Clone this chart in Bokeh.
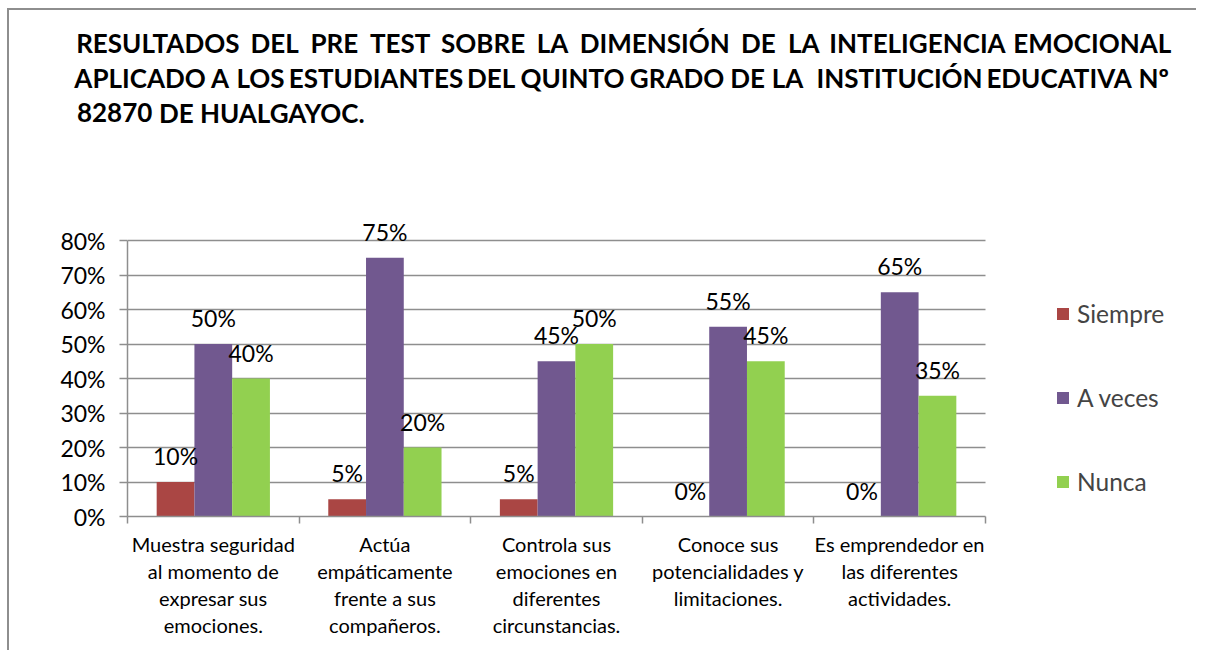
from bokeh.plotting import figure
from bokeh.models import (ColumnDataSource, Range1d, FixedTicker, NumeralTickFormatter,
                          LabelSet, Legend, LegendItem)
from bokeh.core.properties import value
from bokeh.embed import file_html
from bokeh.resources import INLINE

# ---------------- data ----------------
categories = [
    "Muestra seguridad\nal momento de\nexpresar sus\nemociones.",
    "Actúa\nempáticamente\nfrente a sus\ncompañeros.",
    "Controla sus\nemociones en\ndiferentes\ncircunstancias.",
    "Conoce sus\npotencialidades y\nlimitaciones.",
    "Es emprendedor en\nlas diferentes\nactividades.",
]
series_names = ["Siempre", "A veces", "Nunca"]
siempre = [0.10, 0.05, 0.05, 0.00, 0.00]
a_veces = [0.50, 0.75, 0.45, 0.55, 0.65]
nunca = [0.40, 0.20, 0.50, 0.45, 0.35]
y_ticks = [0.0, 0.1, 0.2, 0.3, 0.4, 0.5, 0.6, 0.7, 0.8]

title_lines = [
    "RESULTADOS DEL PRE TEST SOBRE LA DIMENSIÓN DE LA INTELIGENCIA EMOCIONAL",
    "APLICADO A LOS ESTUDIANTES DEL QUINTO GRADO DE LA  INSTITUCIÓN EDUCATIVA Nº",
    "82870 DE HUALGAYOC.",
]

colors = ["#AA4644", "#71588F", "#92D050"]
FONT = "Lato"
GRID = "#8E8E8E"
BORDER = "2px solid #8E8E8E"

W = 1189
# ---------------- title figure (justified text) ----------------
HT = 131
tf = figure(width=W, height=HT, output_backend="svg", toolbar_location=None,
            x_range=Range1d(0, W), y_range=Range1d(HT, 0),
            x_axis_location=None, y_axis_location=None,
            min_border=0, min_border_left=0, min_border_right=0,
            min_border_top=0, min_border_bottom=0)
tf.title_location = None
tf.grid.visible = False
tf.outline_line_color = None
tf.styles = {"border-left": BORDER, "border-top": BORDER,
             "margin-left": "7px", "margin-top": "8px"}

# approximate Calibri Bold advance widths (per 1000 em) to distribute words
cw = {"A": 606, "B": 561, "C": 529, "D": 630, "E": 488, "F": 459, "G": 637, "H": 631, "I": 267,
      "L": 423, "M": 874, "N": 659, "O": 676, "P": 532, "Q": 686, "R": 563, "S": 473, "T": 495,
      "U": 653, "V": 591, "Y": 520, "Ó": 676, "º": 350, ".": 267}
for d in "0123456789":
    cw[d] = 507
size_ref = 29.3
x0, x1 = 68, 1159
base_y = [32, 67, 102]
tx, ty, tt = [], [], []
for li, line in enumerate(title_lines):
    words = line.split(" ")
    real = [w for w in words if w]
    widths = [sum(cw.get(c, 550) for c in w) * size_ref / 1000 for w in real]
    nsp = len(words) - 1
    last = li == len(title_lines) - 1
    gap = (x1 - x0 - sum(widths)) / nsp if not last else 280 * size_ref / 1000
    x = x0
    k = 0
    for w in words:
        if w == "":
            x += gap
            continue
        wd = widths[k]
        tx.append(x + wd / 2)
        ty.append(base_y[li])
        tt.append(w)
        x += wd + gap
        k += 1
tf.text(x=tx, y=ty, text=tt, text_align="center", text_baseline="alphabetic",
        text_font=value(FONT), text_font_style="bold", text_font_size="26px",
        text_color="black")

# ---------------- chart figure ----------------
H = 511
FL, FT, FR, FB = 118, 10, 976, 377     # frame: 0..n spans FL..FR, 0..0.8 spans FB..(FB-276)
n = len(categories)
x_end = n * (W - FL) / (FR - FL)
y_end = 0.8 * (FB - FT) / 276
p = figure(width=W, height=H, output_backend="svg", toolbar_location=None,
           x_range=Range1d(0, x_end), y_range=Range1d(0, y_end),
           min_border_left=FL, min_border_right=0, min_border_top=FT,
           min_border_bottom=H - FB)
p.outline_line_color = None
p.background_fill_color = "white"
p.border_fill_color = "white"
p.styles = {"border-left": BORDER, "margin-left": "7px"}

bw = 0.22
offsets = [-bw, 0.0, bw]
renderers = []
for vals, off, col, name in zip([siempre, a_veces, nunca], offsets, colors, series_names):
    src = ColumnDataSource(dict(
        x=[i + 0.5 + off for i in range(n)],
        top=vals,
        lab=[f"{round(v * 100)}%" for v in vals],
    ))
    r = p.vbar(x="x", top="top", width=bw, source=src, fill_color=col, line_color=None)
    renderers.append(r)
    p.add_layout(LabelSet(x="x", y="top", text="lab", source=src, text_align="center",
                          text_baseline="middle", y_offset=26, text_font=value(FONT),
                          text_font_size=value("23px"), text_color=value("black")))

# y axis
p.yaxis.ticker = FixedTicker(ticks=y_ticks)
p.yaxis.bounds = (0, 0.8)
p.yaxis.formatter = NumeralTickFormatter(format="0%")
p.yaxis.major_label_text_font = FONT
p.yaxis.major_label_text_font_size = "23px"
p.yaxis.major_label_text_color = "black"
p.yaxis.major_tick_out = 8
p.yaxis.major_tick_in = 0
p.yaxis.minor_tick_line_color = None
p.yaxis.major_label_standoff = 14
p.yaxis.axis_line_color = GRID
p.yaxis.major_tick_line_color = GRID
p.yaxis.axis_line_width = 1.5
p.yaxis.major_tick_line_width = 1.5

# x axis: labels at category centres, ticks at boundaries
centers = [i + 0.5 for i in range(n)]
p.xaxis.ticker = FixedTicker(ticks=centers, minor_ticks=list(range(n + 1)))
p.xaxis.bounds = (0, n)
p.xaxis.major_label_overrides = {c: lab for c, lab in zip(centers, categories)}
p.xaxis.major_tick_out = 0
p.xaxis.major_tick_in = 0
p.xaxis.minor_tick_out = 7
p.xaxis.minor_tick_in = 0
p.xaxis.minor_tick_line_color = GRID
p.xaxis.minor_tick_line_width = 1.5
p.xaxis.axis_line_color = GRID
p.xaxis.axis_line_width = 1.5
p.xaxis.major_label_text_font = FONT
p.xaxis.major_label_text_font_size = "20px"
p.xaxis.major_label_text_color = "black"
p.xaxis.major_label_text_line_height = 1.135
p.xaxis.major_label_standoff = 8

# horizontal gridlines limited to the category area
p.xgrid.grid_line_color = None
yg = p.ygrid[0]
if "cross_bounds" in yg.properties():
    yg.ticker = FixedTicker(ticks=y_ticks)
    yg.bounds = (0, 0.8)
    yg.cross_bounds = (0, n)
    yg.grid_line_color = GRID
    yg.grid_line_width = 1.5
else:
    yg.grid_line_color = None
    p.segment(x0=0, x1=n, y0=y_ticks[1:], y1=y_ticks[1:], line_color=GRID,
              line_width=1.5, level="underlay")

legend = Legend(items=[LegendItem(label=nm, renderers=[r]) for nm, r in zip(series_names, renderers)],
                location=(928, 20), orientation="vertical", glyph_width=15, glyph_height=15,
                label_text_font=FONT, label_text_font_size="24.5px", label_height=22,
                spacing=55, padding=0, margin=0, label_standoff=7,
                border_line_color=None, background_fill_alpha=0)
p.add_layout(legend, "center")

open("out.html", "w").write(file_html([tf, p], INLINE))
